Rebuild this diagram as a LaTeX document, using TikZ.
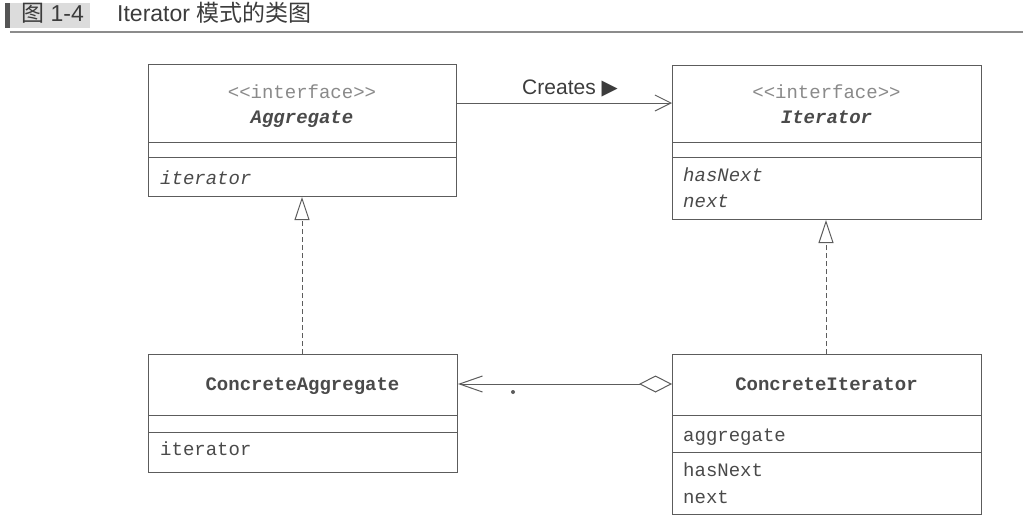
\documentclass[tikz,border=0pt]{standalone}
\usepackage{fontspec}
\setmainfont{Liberation Sans}
\setsansfont{Liberation Sans}
\setmonofont{Liberation Mono}
\newfontfamily\cjk{Noto Sans CJK SC}
\newfontfamily\dejavu{DejaVu Sans}
\usetikzlibrary{arrows.meta}
\definecolor{ln}{HTML}{5C5C5C}
\definecolor{txt}{HTML}{4A4A4A}
\definecolor{ifc}{HTML}{8A8A8A}
\definecolor{hdrbar}{HTML}{555555}
\definecolor{hdrbg}{HTML}{DCDCDC}
\definecolor{hdrline}{HTML}{8C8C8C}
\definecolor{hdrtxt}{HTML}{3C3C3C}
\begin{document}
\begin{tikzpicture}[x=1pt,y=-1pt,
  cls/.style={draw=ln, line width=1pt, inner sep=0pt, anchor=north west, fill=white},
  mono/.style={font=\ttfamily\fontsize{19}{22}\selectfont, text=txt, inner sep=0pt, yshift=-4pt},
  ifcl/.style={mono, text=ifc, anchor=mid},
  cname/.style={mono, anchor=mid, font=\ttfamily\bfseries\fontsize{19}{22}\selectfont},
  member/.style={mono, anchor=mid west},
  divl/.style={draw=ln, line width=1pt},
  conn/.style={draw=ln, line width=1pt},
  realize/.style={conn, dash pattern=on 5pt off 3pt, -{Triangle[open, length=23pt, width=15pt, line width=1pt]}},
  hdr/.style={inner sep=0pt, text=hdrtxt, font=\fontsize{23}{27}\selectfont, anchor=mid west, yshift=-3pt}
]
\useasboundingbox (0,0) rectangle (1023,528);

% header
\fill[hdrbar] (5,3) rectangle (10,28);
\fill[hdrbg] (10,3) rectangle (90,28);
\draw[hdrline, line width=1.5pt] (10,32) -- (1023,32);
\node[hdr] (fignum) at (21,16) {{\cjk 图} 1-4};
\node[hdr] (title) at (117,16) {Iterator {\cjk 模式的类图}};

% classes
\node[cls, minimum width=308pt, minimum height=132pt] (agg) at (148,64) {};
\draw[divl] (agg.west |- 0,142) -- (agg.east |- 0,142);
\draw[divl] (agg.west |- 0,157) -- (agg.east |- 0,157);
\node[ifcl] (aggst) at (302,92) {{<}{<}interface{>}{>}};
\node[cname, font=\ttfamily\bfseries\itshape\fontsize{19}{22}\selectfont] (aggnm) at (302,117) {Aggregate};
\node[member, font=\ttfamily\itshape\fontsize{19}{22}\selectfont] (aggm1) at (160,178) {iterator};

\node[cls, minimum width=309pt, minimum height=154pt] (iter) at (672,65) {};
\draw[divl] (iter.west |- 0,142) -- (iter.east |- 0,142);
\draw[divl] (iter.west |- 0,157) -- (iter.east |- 0,157);
\node[ifcl] (iterst) at (826.5,92) {{<}{<}interface{>}{>}};
\node[cname, font=\ttfamily\bfseries\itshape\fontsize{19}{22}\selectfont] (iternm) at (826.5,117) {Iterator};
\node[member, font=\ttfamily\itshape\fontsize{19}{22}\selectfont] (iterm1) at (683,175) {hasNext};
\node[member, font=\ttfamily\itshape\fontsize{19}{22}\selectfont] (iterm2) at (683,201) {next};

\node[cls, minimum width=309pt, minimum height=118pt] (ca) at (148,354) {};
\draw[divl] (ca.west |- 0,415) -- (ca.east |- 0,415);
\draw[divl] (ca.west |- 0,432) -- (ca.east |- 0,432);
\node[cname] (canm) at (302.5,384) {ConcreteAggregate};
\node[member] (cam1) at (160,449) {iterator};

\node[cls, minimum width=309pt, minimum height=160pt] (ci) at (672,354) {};
\draw[divl] (ci.west |- 0,415) -- (ci.east |- 0,415);
\draw[divl] (ci.west |- 0,452) -- (ci.east |- 0,452);
\node[cname] (cinm) at (826.5,384) {ConcreteIterator};
\node[member] (cif1) at (683,435) {aggregate};
\node[member] (cim1) at (683,470) {hasNext};
\node[member] (cim2) at (683,497) {next};

% connectors
\draw[conn, -{Straight Barb[length=16pt, width=16pt, line width=1pt]}] (agg.east |- 0,103) -- (iter.west |- 0,103);
\node[inner sep=0pt, anchor=mid, text=hdrtxt, font=\fontsize{21}{25}\selectfont, yshift=-4pt] (creates) at (570,88) {Creates {\dejavu\fontsize{21}{25}\selectfont ▶}};

\draw[conn, {Diamond[open, length=33pt, width=17pt, line width=1pt]}-{Straight Barb[length=23pt, width=16pt, line width=1pt]}] (ci.west |- 0,384) -- (ca.east |- 0,384);
\node[circle, fill=ln, inner sep=0pt, minimum size=4pt] (mult) at (513,392) {};

\draw[realize] (ca.north -| 302,0) -- (agg.south -| 302,0);
\draw[realize] (ci.north -| 826,0) -- (iter.south -| 826,0);
\end{tikzpicture}
\end{document}
